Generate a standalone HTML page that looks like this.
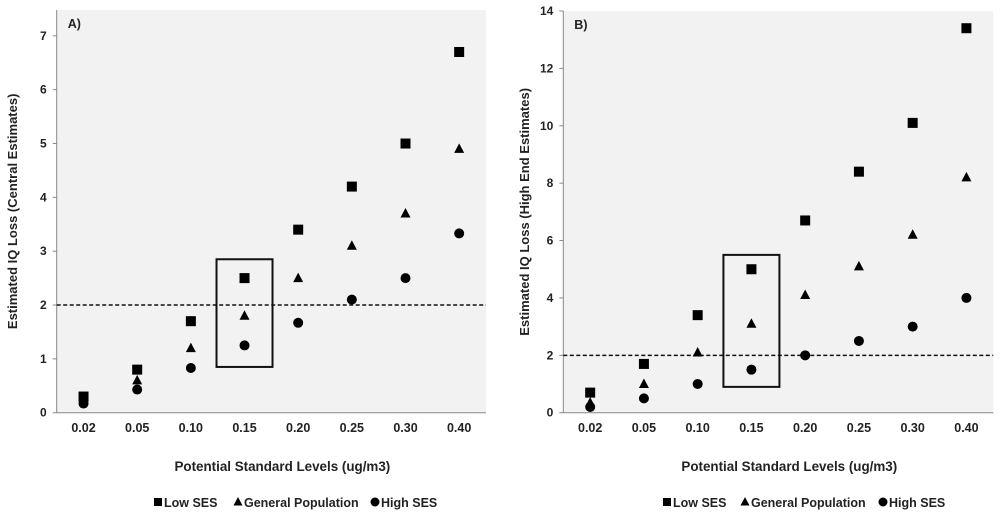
<!DOCTYPE html>
<html><head><meta charset="utf-8"><style>
html,body{margin:0;padding:0;background:#fff;width:1000px;height:513px;overflow:hidden}
svg text{font-family:"Liberation Sans",Arial,sans-serif;font-weight:bold;fill:#222}
</style></head><body>
<svg id="chart" width="1000" height="513" viewBox="0 0 1000 513"></svg>
<script>
const categories=["0.02","0.05","0.10","0.15","0.20","0.25","0.30","0.40"];
const seriesNames=["Low SES","General Population","High SES"];
const aLow=[0.3,0.8,1.7,2.5,3.4,4.2,5.0,6.7];
const aGen=[0.27,0.6,1.2,1.8,2.5,3.1,3.7,4.9];
const aHigh=[0.17,0.43,0.83,1.25,1.67,2.1,2.5,3.33];
const bLow=[0.7,1.7,3.4,5.0,6.7,8.4,10.1,13.4];
const bGen=[0.35,1.0,2.1,3.1,4.1,5.1,6.2,8.2];
const bHigh=[0.2,0.5,1.0,1.5,2.0,2.5,3.0,4.0];
const aTicks=[0,1,2,3,4,5,6,7];
const bTicks=[0,2,4,6,8,10,12,14];
const threshold=2;
const ns="http://www.w3.org/2000/svg";
const svg=document.getElementById('chart');
function mk(tag,attrs,parent,text){const e=document.createElementNS(ns,tag);for(const k in attrs)e.setAttribute(k,attrs[k]);if(text!==undefined)e.textContent=text;(parent||svg).appendChild(e);return e;}
function panel(cfg){
  const g=mk('g',{});
  
  
  const L=cfg.left,R=cfg.right,T=cfg.top,B=412.7;
  const y=v=>B-(v/cfg.ymax)*(B-T);
  const bw=(R-L)/categories.length;
  const x=i=>L+bw*(i+0.5);
  const bg=mk('rect',{x:L,y:T,width:R-L,height:B-T,fill:'#f2f2f2'},g);
  
  
  mk('line',{x1:L,y1:T,x2:L,y2:B,stroke:'#888','stroke-width':1},g);
  mk('line',{x1:L,y1:B,x2:R,y2:B,stroke:'#888','stroke-width':1},g);
  cfg.ticks.forEach(t=>{
    mk('line',{x1:L-4,y1:y(t),x2:L,y2:y(t),stroke:'#888'},g);
    const tl=mk('text',{x:L-10,y:y(t)+4,'text-anchor':'end','font-size':12},g,String(t));
    
    
  });
  categories.forEach((c,i)=>{
    const tl=mk('text',{x:x(i),y:432,'text-anchor':'middle','font-size':12.5},g,c);
    
    
  });
  const yt=mk('text',{x:cfg.ytx,y:(T+B)/2,'text-anchor':'middle','font-size':13,transform:`rotate(-90 ${cfg.ytx} ${(T+B)/2})`},g,cfg.ytitle);
  
  
  const xt=mk('text',{x:(L+R)/2+11,y:471,'text-anchor':'middle','font-size':13.4},g,'Potential Standard Levels (ug/m3)');
  
  
  const pl=mk('text',{x:L+11,y:T+18,'font-size':12.5,'font-weight':cfg.labelBold?'bold':'normal'},g,cfg.label);
  
  
  const dl=mk('line',{x1:L,y1:y(threshold),x2:R,y2:y(threshold),stroke:'#111','stroke-width':1.5,'stroke-dasharray':'4,2.5'},g);
  
  
  const bx=mk('rect',{x:x(3)-28,y:y(cfg.boxTop),width:56,height:y(cfg.boxBot)-y(cfg.boxTop),fill:'none',stroke:'#111','stroke-width':2},g);
  
  
  cfg.low.forEach((v,i)=>{const m=mk('rect',{x:x(i)-5,y:y(v)-5,width:10,height:10,fill:'#000'},g);
    
    });
  cfg.gen.forEach((v,i)=>{const cx=x(i),cy=y(v);const m=mk('polygon',{points:`${cx},${cy-5.5} ${cx+5},${cy+4} ${cx-5},${cy+4}`,fill:'#000'},g);
    
    });
  cfg.high.forEach((v,i)=>{const m=mk('circle',{cx:x(i),cy:y(v),r:5,fill:'#000'},g);
    
    });
  const lg=mk('g',{},g);
  
  
  const ly=502,lx=cfg.legX;
  mk('rect',{x:lx[0]-4,y:ly-4,width:8,height:8,fill:'#000'},lg);
  mk('polygon',{points:`${lx[1]},${ly-5} ${lx[1]+4.5},${ly+3.5} ${lx[1]-4.5},${ly+3.5}`,fill:'#000'},lg);
  mk('circle',{cx:lx[2],cy:ly,r:4.5,fill:'#000'},lg);
  seriesNames.forEach((n,i)=>{const t=mk('text',{x:lx[i]+6,y:ly+5,'font-size':12.5},lg,n);
    
    });
}
panel({id:'panel-a',left:56.7,right:486,top:10,ymax:7.48,ticks:aTicks,low:aLow,gen:aGen,high:aHigh,
  ytitle:'Estimated IQ Loss (Central Estimates)',ytx:17,label:'A)',labelBold:true,boxTop:2.85,boxBot:0.85,legX:[158,238,375]});
panel({id:'panel-b',left:563.3,right:993.3,top:11,ymax:14,ticks:bTicks,low:bLow,gen:bGen,high:bHigh,
  ytitle:'Estimated IQ Loss (High End Estimates)',ytx:529,label:'B)',labelBold:false,boxTop:5.5,boxBot:0.9,legX:[667,745,883]});
</script>
</body></html>
